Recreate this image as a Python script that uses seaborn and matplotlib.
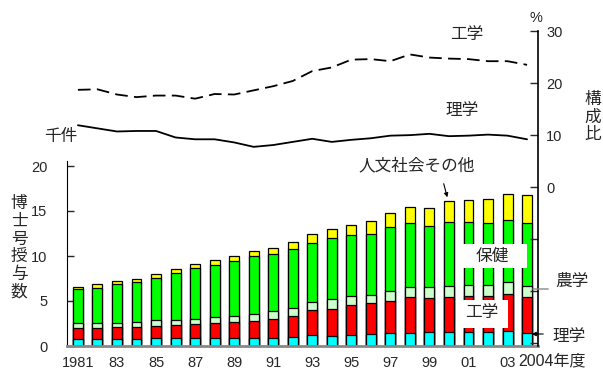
import numpy as np
import pandas as pd
import seaborn as sns
import matplotlib.pyplot as plt
from matplotlib.patches import Rectangle

sns.set_style("white")
plt.rcParams['font.family'] = ['Liberation Sans', 'Noto Sans CJK JP']

# 博士号授与数 (千件)
years = list(range(1981, 2005))
rigaku = [0.78, 0.74, 0.74, 0.78, 0.85, 0.85, 0.89, 0.89, 0.89, 0.89, 0.89, 1.04,
          1.19, 1.15, 1.22, 1.30, 1.44, 1.48, 1.56, 1.56, 1.59, 1.59, 1.67, 1.48]
kogaku = [1.26, 1.30, 1.33, 1.32, 1.41, 1.48, 1.52, 1.70, 1.78, 1.92, 2.11, 2.29,
          2.77, 3.00, 3.30, 3.46, 3.60, 3.96, 3.81, 3.92, 3.93, 3.93, 4.11, 3.96]
nogaku = [0.48, 0.48, 0.49, 0.57, 0.63, 0.56, 0.59, 0.63, 0.66, 0.71, 0.85, 0.86,
          0.89, 1.04, 1.07, 0.96, 1.11, 1.12, 1.15, 1.22, 1.26, 1.29, 1.29, 1.19]
hoken = [3.78, 3.96, 4.29, 4.40, 4.70, 5.18, 5.63, 5.82, 6.11, 6.44, 6.35, 6.61,
         6.65, 6.77, 6.74, 6.78, 7.05, 7.11, 6.78, 7.10, 6.96, 6.86, 6.89, 7.00]
jinbun = [0.30, 0.37, 0.35, 0.41, 0.41, 0.45, 0.52, 0.56, 0.56, 0.64, 0.70, 0.75,
          1.00, 1.04, 1.17, 1.40, 1.60, 1.73, 2.00, 2.30, 2.46, 2.63, 2.94, 3.17]

# 構成比 (%)
kogaku_share = [18.7, 18.8, 17.8, 17.3, 17.6, 17.6, 17.0, 17.9, 17.8, 18.6, 19.4, 20.4,
                22.3, 23.0, 24.5, 24.6, 24.2, 25.5, 24.9, 24.7, 24.6, 24.2, 24.2, 23.5]
rigaku_share = [11.9, 11.3, 10.7, 10.8, 10.8, 9.55, 9.2, 9.2, 8.6, 7.75, 8.1, 8.7,
                9.3, 8.7, 9.1, 9.4, 9.9, 10.0, 10.25, 9.8, 9.9, 10.1, 9.9, 9.2]

xlabels = ['1981', '83', '85', '87', '89', '91', '93', '95', '97', '99', '01', '03']

df = pd.DataFrame({'年度': [str(y) for y in years], '理学': rigaku, '工学': kogaku,
                   '農学': nogaku, '保健': hoken, '人文社会その他': jinbun})
layers = ['理学', '工学', '農学', '保健', '人文社会その他']
colors = ['#00ffff', '#ff0000', '#ccffcc', '#00ff00', '#ffff00']
tops = df[layers].cumsum(axis=1)

W, H = 603, 374
fig = plt.figure(figsize=(W / 100, H / 100), dpi=100)
ax = fig.add_axes([67 / W, 1 - 346 / H, (538 - 67) / W, (346 - 31) / H])

# 積み上げ棒: 上の層から順に重ねて描く
for name, c in reversed(list(zip(layers, colors))):
    sns.barplot(x=df['年度'], y=tops[name], color=c, saturation=1, width=0.51,
                edgecolor='black', linewidth=0.9, errorbar=None, ax=ax)

NUM = 10.5
ax.set_xlim(-0.56, 23.56)
ax.set_ylim(0, 35)
ax.set_xlabel('')
ax.set_ylabel('')
ax.set_yticks([0, 5, 10, 15, 20])
ax.set_xticks(range(0, 23, 2))
ax.set_xticklabels(xlabels, fontsize=NUM)
ax.tick_params(axis='x', length=0, pad=7)
ax.tick_params(axis='y', direction='in', length=5, width=1, pad=14, labelsize=NUM,
               left=True)
for s in ['top', 'right']:
    ax.spines[s].set_visible(False)
ax.spines['left'].set_bounds(0, 20.6)
ax.spines['left'].set_color('black')
ax.spines['bottom'].set_color('#888888')
ax.spines['bottom'].set_linewidth(2)

ax2 = ax.twinx()
x = np.arange(len(years))
sns.lineplot(x=x, y=kogaku_share, ax=ax2, color='black', linewidth=1.3,
             linestyle=(0, (7, 3.5)))
sns.lineplot(x=x, y=rigaku_share, ax=ax2, color='black', linewidth=1.3)
ax2.set_ylim(-30.5, 30)
ax2.set_xlim(-0.56, 23.56)
ax2.set_yticks([-30, -20, -10, 0, 10, 20, 30])
ax2.set_yticklabels(['', '', '', '0', '10', '20', '30'])
ax2.tick_params(axis='y', direction='in', length=6, width=1, pad=6, labelsize=NUM,
                right=True)
ax2.set_xlabel('')
ax2.set_ylabel('')
for s in ['top', 'left', 'bottom']:
    ax2.spines[s].set_visible(False)
ax2.spines['right'].set_color('black')
ax2.spines['right'].set_linewidth(1.2)


def P(px, py):
    return px / W, 1 - py / H


jp = dict(fontsize=12, family=['Noto Sans CJK JP'], ha='center', va='center')

fig.text(*P(518, 361), '2004年度', fontsize=11.5, ha='left', va='center',
         family=['Liberation Sans', 'Noto Sans CJK JP'])
fig.text(*P(536, 18), '%', fontsize=NUM, ha='center', va='center')
fig.text(*P(61, 137), '千件', **jp)
fig.text(*P(19, 248), '\n'.join('博士号授与数'), linespacing=1.05, **jp)
fig.text(*P(593, 117), '\n'.join('構成比'), linespacing=1.05, **jp)
fig.text(*P(467, 34), '工学', **jp)
fig.text(*P(462, 111), '理学', **jp)
fig.text(*P(417, 166), '人文社会その他', **jp)
fig.text(*P(572, 281), '農学', **jp)
fig.text(*P(569, 336), '理学', **jp)

# 白抜きラベル
for (x0, y0, x1, y1) in [(458, 244, 527, 268), (460, 300, 508, 328)]:
    fig.patches.append(Rectangle(P(x0, y1), (x1 - x0) / W, (y1 - y0) / H,
                                 transform=fig.transFigure, facecolor='white',
                                 edgecolor='none', zorder=2))
fig.text(*P(492, 256), '保健', zorder=3, **jp)
fig.text(*P(482, 313), '工学', zorder=3, **jp)

# 引き出し線
ax2.annotate('', xy=P(448, 200), xytext=P(443, 181), xycoords='figure fraction',
             textcoords='figure fraction',
             arrowprops=dict(arrowstyle='-|>', color='black', lw=0.8,
                             mutation_scale=6))
ax2.annotate('', xy=P(529, 334), xytext=P(546, 334), xycoords='figure fraction',
             textcoords='figure fraction',
             arrowprops=dict(arrowstyle='-|>', color='black', lw=0.8,
                             mutation_scale=6))
ax2.annotate('', xy=P(530, 289), xytext=P(551, 289), xycoords='figure fraction',
             textcoords='figure fraction',
             arrowprops=dict(arrowstyle='-', color='#888888', lw=1))

fig.savefig('out.png', dpi=100)
